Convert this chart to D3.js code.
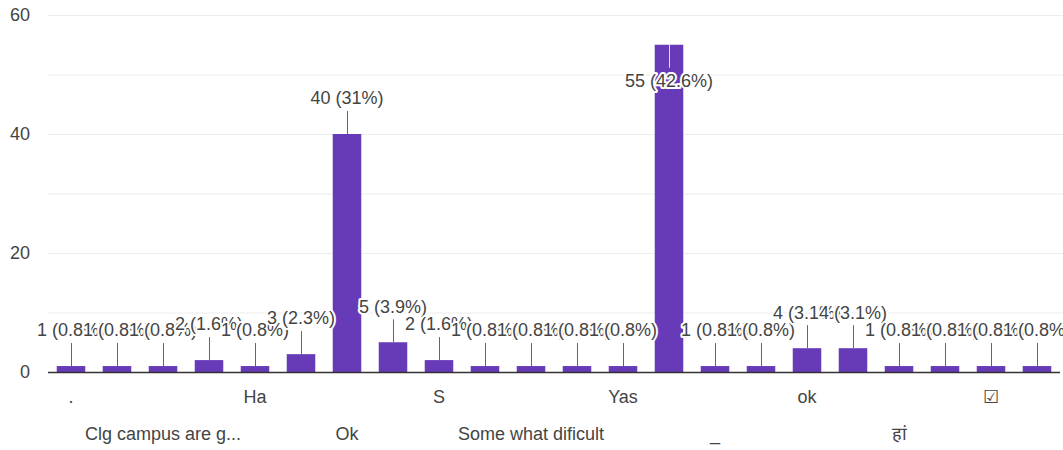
<!DOCTYPE html>
<html>
<head>
<meta charset="utf-8">
<script src="https://cdn.jsdelivr.net/npm/d3@7/dist/d3.min.js"></script>
<style>
  body { margin: 0; background: #fff; }
  svg { display: block; font-family: "Liberation Sans", Arial, sans-serif; }
  .grid line { stroke: #ececec; }
  .axis text { fill: #444; font-size: 18px; }
  .label { font-size: 18px; fill: #444; stroke: #fff; stroke-width: 4px; paint-order: stroke; stroke-linejoin: round; }
</style>
</head>
<body>
<svg></svg>
<script>
// answers, sorted the way the form lists them (only every other one gets a tick label)
const answers = [".", "Best", "Clg campus are g...", "Good", "Ha", "No", "Ok", "Okay", "S", "Some time",
  "Some what dificult", "Very good", "Yas", "Yes", "_", "good", "ok", "yes", "हां", "हां जी", "☑", "👍"];
const counts = [1, 1, 1, 2, 1, 3, 40, 5, 2, 1, 1, 1, 1, 55, 1, 1, 4, 4, 1, 1, 1, 1];
const yTicks = [0, 20, 40, 60];
const gridTicks = [10, 20, 30, 40, 50, 60];

const svgWidth = 1063, svgHeight = 450;
const margin = { top: 15, right: 3, bottom: 78, left: 48 };

const total = d3.sum(counts);
const dataset = answers.map((a, i) => ({ answer: a, count: counts[i] }));

const svg = d3.select('svg')
  .attr('width', svgWidth)
  .attr('height', svgHeight);

const xScale = d3.scaleBand()
  .domain(answers)
  .range([margin.left, svgWidth - margin.right])
  .paddingInner(0.38)
  .paddingOuter(0.19);

const yScale = d3.scaleLinear()
  .domain([0, 60])
  .range([svgHeight - margin.bottom, margin.top]);

// gridlines every 10
svg.append('g')
  .attr('class', 'grid')
  .selectAll('line')
  .data(gridTicks)
  .enter()
  .append('line')
  .attr('x1', margin.left)
  .attr('x2', svgWidth)
  .attr('y1', d => yScale(d) + 0.5)
  .attr('y2', d => yScale(d) + 0.5);

const yAxis = d3.axisLeft(yScale)
  .tickValues(yTicks)
  .tickSize(0)
  .tickPadding(18);

svg.append('g')
  .attr('class', 'axis')
  .attr('transform', `translate(${margin.left}, 0)`)
  .call(yAxis)
  .call(g => g.select('.domain').remove());

svg.selectAll('rect')
  .data(dataset)
  .enter()
  .append('rect')
  .attr('fill', '#673ab7')
  .attr('x', d => xScale(d.answer))
  .attr('width', xScale.bandwidth())
  .attr('y', d => yScale(d.count))
  .attr('height', d => yScale(0) - yScale(d.count));

// baseline
svg.append('line')
  .attr('x1', margin.left)
  .attr('x2', svgWidth - margin.right)
  .attr('y1', yScale(0) + 0.5)
  .attr('y2', yScale(0) + 0.5)
  .attr('stroke', '#333')
  .attr('stroke-width', 1.5);

// x labels: every other answer, alternating two rows
const xAxis = d3.axisBottom(xScale)
  .tickSize(0)
  .tickFormat((d, i) => i % 2 === 0 ? d : '');

svg.append('g')
  .attr('class', 'axis')
  .attr('transform', `translate(0, ${yScale(0)})`)
  .call(xAxis)
  .call(g => g.select('.domain').remove())
  .selectAll('text')
  .attr('y', (d, i) => (i % 4 === 0 ? 18 : 55))
  .attr('dy', '0.71em');

// annotations with leader stems
const stemLen = 23;
const fitsAbove = d => yScale(d.count) - 36 - 10 > 0;

const ann = svg.append('g');
dataset.forEach(d => {
  const cx = xScale(d.answer) + xScale.bandwidth() / 2;
  const top = yScale(d.count);
  const above = fitsAbove(d);
  ann.append('line')
    .attr('x1', cx + 0.5).attr('x2', cx + 0.5)
    .attr('y1', top)
    .attr('y2', above ? top - stemLen : top + stemLen)
    .attr('stroke', above ? '#666' : '#ddd')
    .attr('stroke-width', 1);
  const pct = (d.count / total * 100).toFixed(1).replace(/\.0$/, '');
  ann.append('text')
    .attr('class', 'label')
    .attr('x', cx)
    .attr('y', above ? top - 36 : top + 36)
    .attr('dy', '0.35em')
    .attr('text-anchor', 'middle')
    .text(`${d.count} (${pct}%)`);
});
</script>
</body>
</html>
